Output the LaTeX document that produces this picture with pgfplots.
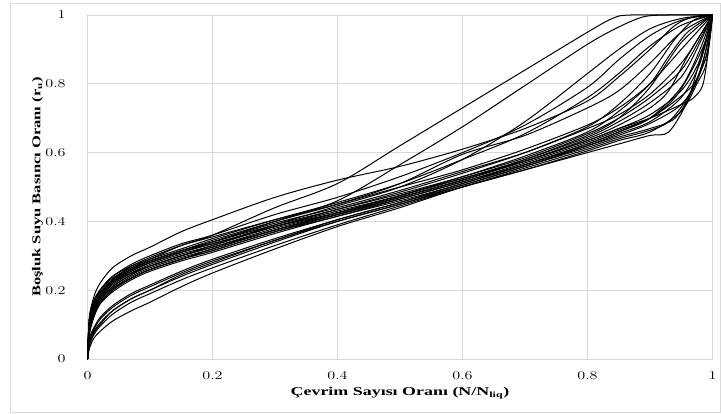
\documentclass[border=0pt]{standalone}
\usepackage{pgfplots}
\pgfplotsset{compat=1.18}
\usepackage{fontspec}
\setmainfont{Liberation Serif}

\pgfplotsset{curve/.style={black, mark=none, line width=1pt, smooth, tension=0.5}}

\begin{document}
\begin{tikzpicture}
\begin{axis}[
    scale only axis,
    width=625bp, height=344bp,
    xmin=0, xmax=1, ymin=0, ymax=1,
    xtick={0,0.2,0.4,0.6,0.8,1},
    ytick={0,0.2,0.4,0.6,0.8,1},
    grid=major,
    major grid style={black!15, line width=0.75pt},
    axis line style={black!15, line width=0.75pt},
    major tick length=0pt,
    tick label style={font=\fontsize{11.5}{13}\selectfont, inner sep=0pt, xscale=1.35},
    xticklabel style={anchor=center, yshift=-17bp},
    yticklabel style={anchor=east, xshift=-16bp},
    xlabel={\bfseries Çevrim Sayısı Oranı (N/N\textsubscript{liq})},
    ylabel={\bfseries Boşluk Suyu Basıncı Oranı (r\textsubscript{u})},
    label style={font=\fontsize{12}{14}\selectfont},
    xlabel style={at={(axis description cs:0.5,0)}, anchor=center, yshift=-34bp, xscale=1.5},
    ylabel style={at={([xshift=-50bp]axis description cs:0,0.5)}, anchor=center, xscale=1.38},
]
\coordinate (O) at (rel axis cs:0,0);

% T1
\addplot[curve] coordinates {(0,0) (0.003,0.12) (0.01,0.18) (0.02,0.22) (0.04,0.265) (0.07,0.30) (0.1,0.325) (0.15,0.37) (0.2,0.405) (0.3,0.47) (0.4,0.52) (0.5,0.56) (0.6,0.61) (0.7,0.67) (0.8,0.75) (0.85,0.82) (0.9,0.90) (0.94,0.97) (0.97,0.995) (1,1)};
% A
\addplot[curve] coordinates {(0,0) (0.003,0.10) (0.01,0.15) (0.02,0.19) (0.04,0.23) (0.07,0.27) (0.1,0.29) (0.15,0.33) (0.2,0.36) (0.3,0.44) (0.4,0.51) (0.5,0.62) (0.6,0.73) (0.7,0.84) (0.8,0.95) (0.84,0.99) (0.87,1) (1,1)};
% B
\addplot[curve] coordinates {(0,0) (0.003,0.09) (0.01,0.14) (0.02,0.18) (0.04,0.22) (0.07,0.255) (0.1,0.28) (0.15,0.31) (0.2,0.34) (0.3,0.40) (0.4,0.46) (0.5,0.565) (0.6,0.675) (0.7,0.795) (0.8,0.915) (0.85,0.965) (0.89,0.995) (0.93,1) (1,1)};
% C
\addplot[curve] coordinates {(0,0) (0.003,0.08) (0.01,0.13) (0.02,0.17) (0.04,0.21) (0.07,0.245) (0.1,0.27) (0.15,0.30) (0.2,0.33) (0.3,0.39) (0.4,0.445) (0.5,0.50) (0.6,0.58) (0.7,0.69) (0.8,0.83) (0.85,0.90) (0.9,0.96) (0.95,0.99) (1,1)};
% D
\addplot[curve] coordinates {(0,0) (0.003,0.11) (0.01,0.16) (0.02,0.20) (0.04,0.24) (0.07,0.275) (0.1,0.30) (0.15,0.335) (0.2,0.36) (0.3,0.42) (0.4,0.47) (0.5,0.53) (0.6,0.60) (0.7,0.68) (0.8,0.79) (0.85,0.87) (0.9,0.94) (0.95,0.985) (1,1)};
% E
\addplot[curve] coordinates {(0,0) (0.003,0.10) (0.01,0.15) (0.02,0.19) (0.04,0.23) (0.07,0.265) (0.1,0.29) (0.15,0.32) (0.2,0.35) (0.3,0.405) (0.4,0.455) (0.5,0.51) (0.6,0.58) (0.7,0.655) (0.8,0.76) (0.85,0.83) (0.9,0.91) (0.95,0.97) (1,1)};
% F
\addplot[curve] coordinates {(0,0) (0.003,0.09) (0.01,0.14) (0.02,0.185) (0.04,0.225) (0.07,0.26) (0.1,0.285) (0.15,0.315) (0.2,0.345) (0.3,0.40) (0.4,0.45) (0.5,0.51) (0.6,0.595) (0.7,0.65) (0.8,0.73) (0.85,0.78) (0.9,0.86) (0.95,0.95) (1,1)};
% M1
\addplot[curve] coordinates {(0,0) (0.003,0.11) (0.01,0.16) (0.02,0.20) (0.04,0.24) (0.07,0.27) (0.1,0.295) (0.15,0.33) (0.2,0.355) (0.3,0.405) (0.4,0.45) (0.5,0.50) (0.6,0.55) (0.7,0.61) (0.8,0.68) (0.85,0.73) (0.9,0.80) (0.95,0.90) (0.98,0.96) (1,1)};
% M2
\addplot[curve] coordinates {(0,0) (0.003,0.10) (0.01,0.15) (0.02,0.19) (0.04,0.225) (0.07,0.26) (0.1,0.285) (0.15,0.315) (0.2,0.34) (0.3,0.395) (0.4,0.44) (0.5,0.49) (0.6,0.545) (0.7,0.60) (0.8,0.67) (0.85,0.71) (0.9,0.77) (0.95,0.86) (0.98,0.94) (1,1)};
% M3
\addplot[curve] coordinates {(0,0) (0.003,0.12) (0.01,0.17) (0.02,0.20) (0.04,0.235) (0.07,0.265) (0.1,0.285) (0.15,0.315) (0.2,0.34) (0.3,0.39) (0.4,0.435) (0.5,0.48) (0.6,0.53) (0.7,0.585) (0.8,0.655) (0.85,0.70) (0.9,0.76) (0.95,0.84) (0.98,0.93) (1,1)};
% M4
\addplot[curve] coordinates {(0,0) (0.003,0.09) (0.01,0.14) (0.02,0.18) (0.04,0.215) (0.07,0.25) (0.1,0.275) (0.15,0.305) (0.2,0.33) (0.3,0.385) (0.4,0.435) (0.5,0.485) (0.6,0.54) (0.7,0.60) (0.8,0.675) (0.85,0.74) (0.9,0.83) (0.94,0.93) (0.97,0.985) (1,1)};
% M5
\addplot[curve] coordinates {(0,0) (0.003,0.10) (0.01,0.145) (0.02,0.18) (0.04,0.22) (0.07,0.25) (0.1,0.27) (0.15,0.30) (0.2,0.325) (0.3,0.38) (0.4,0.425) (0.5,0.475) (0.6,0.525) (0.7,0.58) (0.8,0.645) (0.85,0.69) (0.9,0.745) (0.95,0.82) (0.98,0.92) (1,1)};
% M6
\addplot[curve] coordinates {(0,0) (0.003,0.08) (0.01,0.13) (0.02,0.17) (0.04,0.205) (0.07,0.24) (0.1,0.265) (0.15,0.295) (0.2,0.32) (0.3,0.375) (0.4,0.425) (0.5,0.475) (0.6,0.53) (0.7,0.59) (0.8,0.66) (0.85,0.72) (0.9,0.80) (0.93,0.88) (0.96,0.95) (1,1)};
% M7
\addplot[curve] coordinates {(0,0) (0.003,0.11) (0.01,0.155) (0.02,0.19) (0.04,0.225) (0.07,0.255) (0.1,0.28) (0.15,0.31) (0.2,0.335) (0.3,0.385) (0.4,0.43) (0.5,0.475) (0.6,0.525) (0.7,0.575) (0.8,0.635) (0.85,0.67) (0.9,0.71) (0.95,0.78) (0.98,0.87) (1,1)};
% M8
\addplot[curve] coordinates {(0,0) (0.003,0.09) (0.01,0.135) (0.02,0.17) (0.04,0.205) (0.07,0.235) (0.1,0.26) (0.15,0.29) (0.2,0.315) (0.3,0.37) (0.4,0.42) (0.5,0.47) (0.6,0.52) (0.7,0.575) (0.8,0.64) (0.85,0.68) (0.9,0.73) (0.93,0.78) (0.96,0.88) (1,1)};
% M9
\addplot[curve] coordinates {(0,0) (0.003,0.10) (0.01,0.14) (0.02,0.175) (0.04,0.21) (0.07,0.245) (0.1,0.27) (0.15,0.30) (0.2,0.325) (0.3,0.375) (0.4,0.42) (0.5,0.465) (0.6,0.515) (0.7,0.57) (0.8,0.63) (0.85,0.665) (0.9,0.70) (0.94,0.76) (0.97,0.85) (0.99,0.93) (1,1)};
% M10
\addplot[curve] coordinates {(0,0) (0.003,0.12) (0.01,0.165) (0.02,0.195) (0.04,0.23) (0.07,0.26) (0.1,0.28) (0.15,0.31) (0.2,0.335) (0.3,0.385) (0.4,0.425) (0.5,0.47) (0.6,0.52) (0.7,0.58) (0.8,0.65) (0.85,0.70) (0.9,0.79) (0.95,0.92) (1,1)};
% M11
\addplot[curve] coordinates {(0,0) (0.003,0.07) (0.01,0.12) (0.02,0.16) (0.04,0.20) (0.07,0.235) (0.1,0.26) (0.15,0.29) (0.2,0.315) (0.3,0.37) (0.4,0.415) (0.5,0.465) (0.6,0.515) (0.7,0.565) (0.8,0.62) (0.85,0.65) (0.9,0.685) (0.95,0.74) (0.98,0.83) (1,1)};
% M12
\addplot[curve] coordinates {(0,0) (0.003,0.08) (0.01,0.125) (0.02,0.16) (0.04,0.195) (0.07,0.23) (0.1,0.255) (0.15,0.285) (0.2,0.31) (0.3,0.365) (0.4,0.415) (0.5,0.46) (0.6,0.51) (0.7,0.565) (0.8,0.625) (0.85,0.66) (0.9,0.70) (0.94,0.75) (0.97,0.80) (0.99,0.88) (1,1)};
% L1
\addplot[curve] coordinates {(0,0) (0.003,0.03) (0.01,0.06) (0.02,0.08) (0.04,0.11) (0.07,0.14) (0.1,0.165) (0.15,0.21) (0.2,0.25) (0.3,0.32) (0.4,0.385) (0.5,0.44) (0.6,0.50) (0.7,0.55) (0.8,0.60) (0.85,0.625) (0.9,0.65) (0.93,0.66) (0.96,0.75) (0.98,0.87) (1,1)};
% L2
\addplot[curve] coordinates {(0,0) (0.003,0.04) (0.01,0.07) (0.02,0.095) (0.04,0.13) (0.07,0.165) (0.1,0.19) (0.15,0.23) (0.2,0.265) (0.3,0.33) (0.4,0.39) (0.5,0.445) (0.6,0.50) (0.7,0.555) (0.8,0.61) (0.85,0.64) (0.9,0.665) (0.93,0.69) (0.96,0.76) (0.99,0.88) (1,1)};
% L3
\addplot[curve] coordinates {(0,0) (0.003,0.05) (0.01,0.08) (0.02,0.105) (0.04,0.14) (0.07,0.175) (0.1,0.20) (0.15,0.24) (0.2,0.275) (0.3,0.34) (0.4,0.40) (0.5,0.45) (0.6,0.505) (0.7,0.56) (0.8,0.615) (0.85,0.645) (0.9,0.67) (0.94,0.70) (0.97,0.79) (0.99,0.90) (1,1)};
% L4
\addplot[curve] coordinates {(0,0) (0.003,0.05) (0.01,0.085) (0.02,0.115) (0.04,0.15) (0.07,0.185) (0.1,0.21) (0.15,0.25) (0.2,0.285) (0.3,0.345) (0.4,0.405) (0.5,0.455) (0.6,0.51) (0.7,0.565) (0.8,0.625) (0.85,0.66) (0.9,0.70) (0.95,0.79) (0.98,0.90) (1,1)};
% L5
\addplot[curve] coordinates {(0,0) (0.003,0.06) (0.01,0.09) (0.02,0.12) (0.04,0.155) (0.07,0.19) (0.1,0.215) (0.15,0.255) (0.2,0.29) (0.3,0.35) (0.4,0.405) (0.5,0.455) (0.6,0.505) (0.7,0.56) (0.8,0.62) (0.85,0.655) (0.9,0.69) (0.95,0.76) (0.98,0.86) (1,1)};
% L6
\addplot[curve] coordinates {(0,0) (0.003,0.04) (0.01,0.075) (0.02,0.10) (0.04,0.14) (0.07,0.175) (0.1,0.20) (0.15,0.245) (0.2,0.28) (0.3,0.345) (0.4,0.40) (0.5,0.45) (0.6,0.50) (0.7,0.55) (0.8,0.605) (0.85,0.635) (0.9,0.66) (0.95,0.72) (0.975,0.80) (0.99,0.86) (1,1)};
% Z
\addplot[curve] coordinates {(0,0) (0.003,0.09) (0.01,0.13) (0.02,0.165) (0.04,0.20) (0.07,0.235) (0.1,0.26) (0.15,0.29) (0.2,0.32) (0.3,0.375) (0.4,0.42) (0.5,0.47) (0.6,0.52) (0.7,0.575) (0.8,0.635) (0.85,0.67) (0.9,0.70) (0.95,0.74) (0.97,0.76) (0.985,0.80) (0.995,0.92) (1,1)};
\end{axis}
\path[use as bounding box] (O) ++(-87.5bp,-55bp) rectangle ++(721bp,414bp);
\draw[black!15, line width=0.75pt] (O) ++(-77.5bp,-53bp) rectangle ++(710bp,409bp);
\end{tikzpicture}
\end{document}
